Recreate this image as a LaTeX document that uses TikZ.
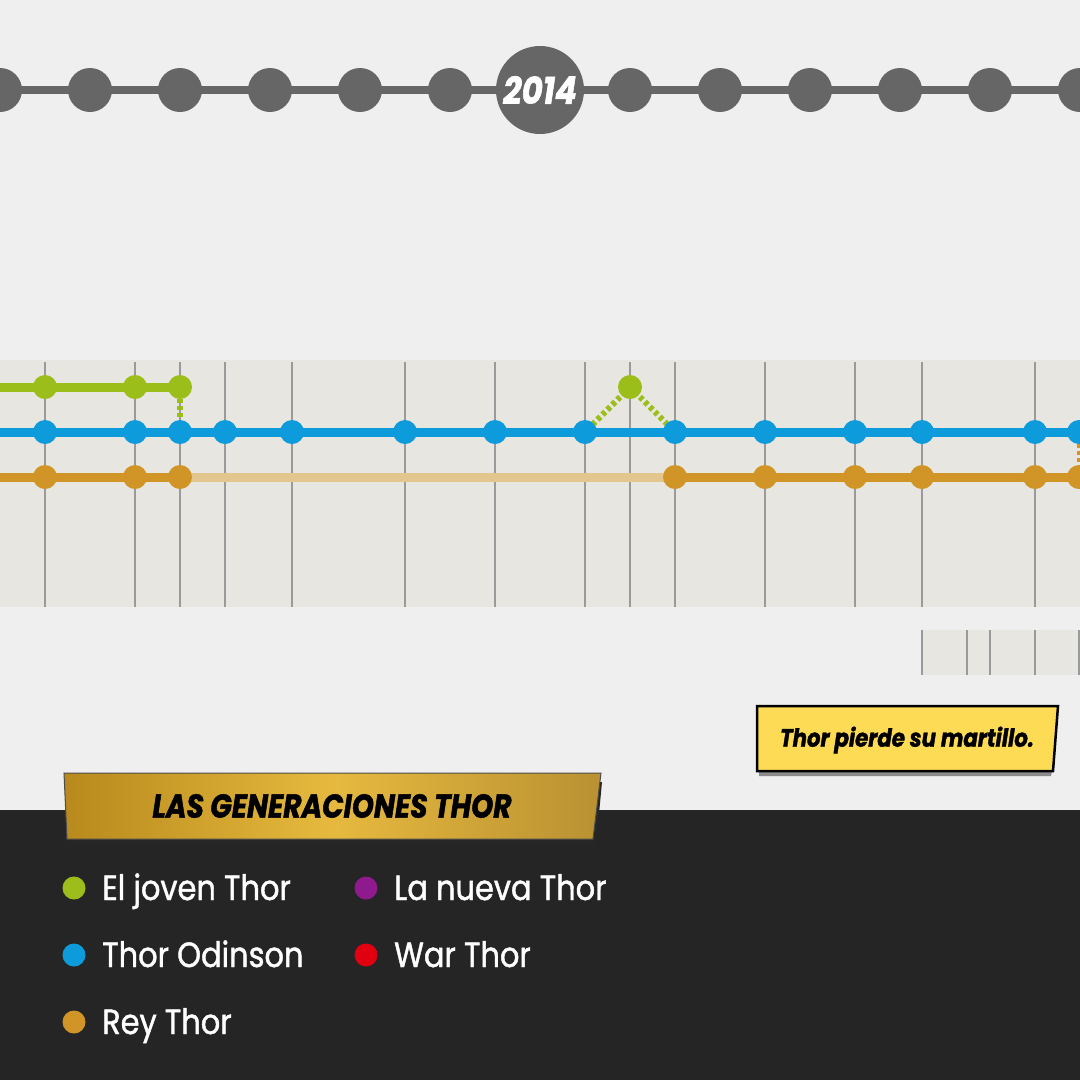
\documentclass[tikz,border=0pt]{standalone}
\usepackage{fontspec}
\setmainfont{Poppins}
\newfontfamily\legfont{Poppins}[FakeStretch=0.87, FakeBold=1.2]
\newfontfamily\comicfont{Poppins}[FakeStretch=0.85, FakeBold=1.5]
\usepackage{tikz}
\usetikzlibrary{calc,positioning}

\definecolor{paper}{HTML}{EFEFEF}
\definecolor{panel}{HTML}{E8E6E0}
\definecolor{tick}{HTML}{9A9A9A}
\definecolor{tlgray}{HTML}{666666}
\definecolor{joven}{HTML}{9BBE1A}
\definecolor{odinson}{HTML}{0E9BDB}
\definecolor{rey}{HTML}{D09526}
\definecolor{reyfade}{HTML}{E2C68E}
\definecolor{nueva}{HTML}{8E1A8E}
\definecolor{warthor}{HTML}{E0000F}
\definecolor{band}{HTML}{252525}
\definecolor{notefill}{HTML}{FDDB55}
\definecolor{goldA}{HTML}{B8891C}
\definecolor{goldB}{HTML}{E6B93E}
\definecolor{goldC}{HTML}{B99132}

\pgfdeclarelayer{back}
\pgfdeclarelayer{lines}
\pgfsetlayers{back,lines,main}

\begin{document}
\begin{tikzpicture}[
  x=1pt, y=-1pt,
  tlline/.style={
    draw=tlgray,
    line width=8pt
  },
  tldot/.style={
    circle,
    fill=tlgray,
    inner sep=0pt,
    minimum size=44pt
  },
  yeardot/.style={
    tldot,
    minimum size=88pt,
    font=\comicfont\bfseries\itshape\fontsize{38}{38}\selectfont,
    text=white
  },
  tickline/.style={
    draw=tick,
    line width=1.5pt
  },
  era/.style={
    line width=9pt
  },
  link/.style={
    line width=6pt,
    dash pattern=on 4pt off 3pt
  },
  dot/.style={
    circle,
    inner sep=0pt,
    minimum size=24pt
  },
  legdot/.style={
    circle,
    inner sep=0pt,
    minimum size=23pt
  },
  legtext/.style={
    anchor=base west,
    inner sep=0pt,
    text=white,
    font=\legfont\fontsize{35}{35}\selectfont
  }
]

% Paper and bounding box
\begin{pgfonlayer}{back}
  \fill[paper] (0,0) rectangle (1080,1080);
\end{pgfonlayer}
\useasboundingbox (0,0) rectangle (1080,1080);

% Year axis
\foreach \i in {0,...,12}{
  \ifnum\i=6\relax
  \else
    \node[tldot] (t\i) at (\i*90,90) {};
  \fi
}
\node[yeardot] (year) at (540,90) {2014};
\begin{pgfonlayer}{lines}
  \draw[tlline] (t0.center) -- (t12.center);
\end{pgfonlayer}

% Chart panel with the issue ticks
\begin{pgfonlayer}{back}
  \fill[panel] (0,360) rectangle (1080,607);
  \foreach \x in {45,135,180,225,292,405,495,585,630,675,765,855,922,1035}
    \draw[tickline] (\x,362) -- (\x,607);
  \fill[panel] (922,630) rectangle (1080,675);
  \foreach \x in {922,967,990,1035,1079}
    \draw[tickline] (\x,630) -- (\x,675);
\end{pgfonlayer}

% Thor Odinson
\coordinate (b0) at (0,432);
\coordinate (bend) at (1080,432);
\foreach \x [count=\k] in {45,135,180,225,292,405,495,585,675,765,855,922,1035,1079}
  \node[dot, fill=odinson] (b\k) at (\x,432) {};

% El joven Thor
\coordinate (g0) at (0,387);
\foreach \x [count=\k] in {45,135,180,630}
  \node[dot, fill=joven] (g\k) at (\x,387) {};

% Rey Thor
\coordinate (k0) at (0,477);
\coordinate (kend) at (1080,477);
\foreach \x [count=\k] in {45,135,180,675,765,855,922,1035,1079}
  \node[dot, fill=rey] (k\k) at (\x,477) {};

\begin{pgfonlayer}{lines}
  \draw[era, odinson] (b0) -- (bend);
  \draw[era, joven] (g0) -- (g3.center);
  \draw[era, rey] (k0) -- (k3.center);
  \draw[era, reyfade] (k3.center) -- (k4.center);
  \draw[era, rey] (k4.center) -- (kend);
  % jumps between the lines
  \draw[link, joven] (g3.south) -- (b3.north);
  \draw[link, joven] (g4.center) -- (b8.center);
  \draw[link, joven] (g4.center) -- (b9.center);
  \draw[link, rey, line width=4pt] (b14.south) -- (k9.north);
\end{pgfonlayer}

% Caption box
\fill[black!45] (759,771) -- (1052,771) -- (1051,776) -- (759,776) -- cycle;
\draw[fill=notefill, line width=2.5pt]
  (757,706) -- (1058,706) -- (1053,771) -- (757,771) -- cycle;
\node[
  font=\comicfont\bfseries\itshape\fontsize{25}{25}\selectfont
] (note) at (907,740) {Thor pierde su martillo.};

% Legend band
\fill[band] (0,810) rectangle (1080,1080);
\fill[black!85] (67,782) -- (602,782) -- (596,846) -- (67,846) -- cycle;
\shade[left color=goldA, right color=goldC, middle color=goldB, draw=black!70, line width=1pt]
  (64,773) -- (601,773) -- (593,839) -- (67,839) -- cycle;
\node[
  font=\comicfont\bfseries\itshape\fontsize{33}{33}\selectfont
] (title) at (332,806) {LAS GENERACIONES THOR};

\node[legdot, fill=joven] (ljoven) at (74,888) {};
\node[legtext] (tjoven) at (102,900) {El joven Thor};
\node[legdot, fill=odinson] (lodinson) at (74,955) {};
\node[legtext] (todinson) at (102,967) {Thor Odinson};
\node[legdot, fill=rey] (lrey) at (74,1022) {};
\node[legtext] (trey) at (102,1034) {Rey Thor};
\node[legdot, fill=nueva] (lnueva) at (366,888) {};
\node[legtext] (tnueva) at (394,900) {La nueva Thor};
\node[legdot, fill=warthor] (lwar) at (366,955) {};
\node[legtext] (twar) at (394,967) {War Thor};

\end{tikzpicture}
\end{document}
